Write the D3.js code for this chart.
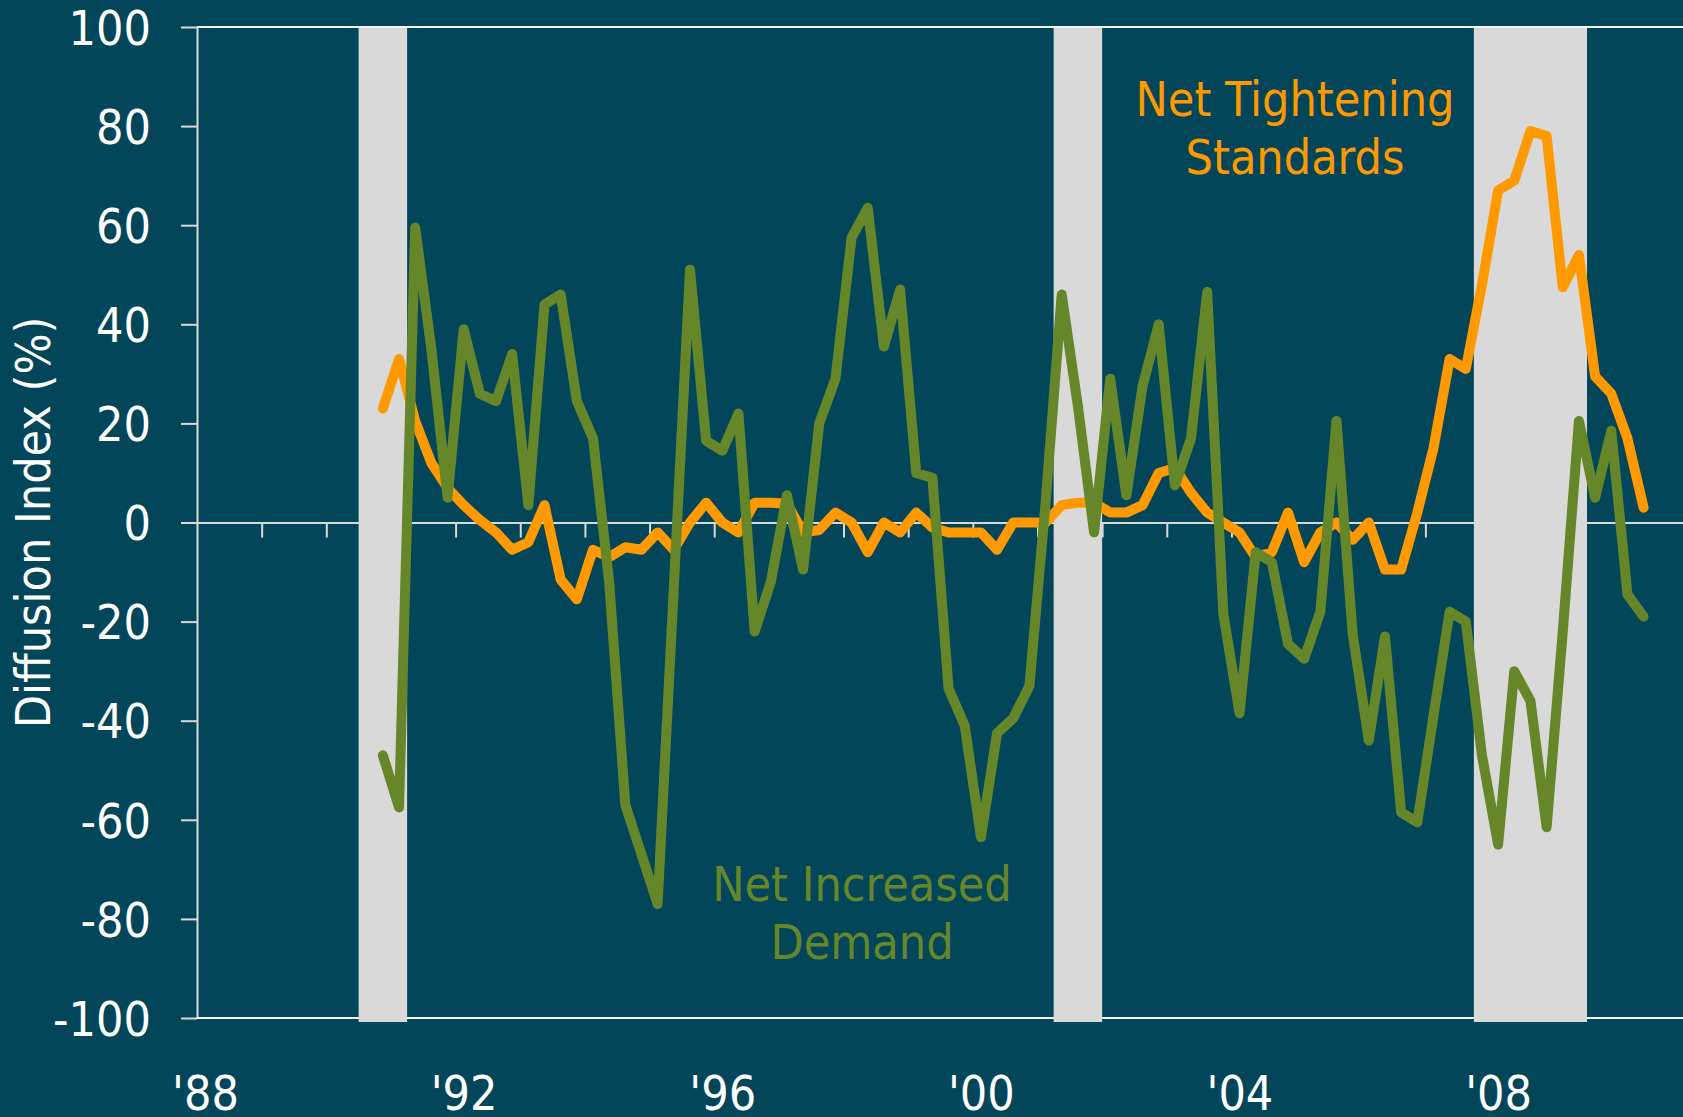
<!DOCTYPE html>
<html>
<head>
<meta charset="utf-8">
<script src="https://cdn.jsdelivr.net/npm/d3@7"></script>
<style>
  html, body { margin: 0; padding: 0; background: #03465a; }
  svg { display: block; }
  text { font-family: 'DejaVu Sans Condensed', 'DejaVu Sans', Verdana, sans-serif; font-stretch: condensed; }
</style>
</head>
<body>
<svg id="chart" width="1683" height="1117"></svg>
<script>
// quarterly survey readings, 1990Q4 .. 2010Q2
const quarters = [
  '1990Q4',
  '1991Q1', '1991Q2', '1991Q3', '1991Q4',
  '1992Q1', '1992Q2', '1992Q3', '1992Q4',
  '1993Q1', '1993Q2', '1993Q3', '1993Q4',
  '1994Q1', '1994Q2', '1994Q3', '1994Q4',
  '1995Q1', '1995Q2', '1995Q3', '1995Q4',
  '1996Q1', '1996Q2', '1996Q3', '1996Q4',
  '1997Q1', '1997Q2', '1997Q3', '1997Q4',
  '1998Q1', '1998Q2', '1998Q3', '1998Q4',
  '1999Q1', '1999Q2', '1999Q3', '1999Q4',
  '2000Q1', '2000Q2', '2000Q3', '2000Q4',
  '2001Q1', '2001Q2', '2001Q3', '2001Q4',
  '2002Q1', '2002Q2', '2002Q3', '2002Q4',
  '2003Q1', '2003Q2', '2003Q3', '2003Q4',
  '2004Q1', '2004Q2', '2004Q3', '2004Q4',
  '2005Q1', '2005Q2', '2005Q3', '2005Q4',
  '2006Q1', '2006Q2', '2006Q3', '2006Q4',
  '2007Q1', '2007Q2', '2007Q3', '2007Q4',
  '2008Q1', '2008Q2', '2008Q3', '2008Q4',
  '2009Q1', '2009Q2', '2009Q3', '2009Q4',
  '2010Q1', '2010Q2'
]

const tightening = [
  23,
  33, 20.5, 12, 7,
  3.5, 0.5, -2, -5.5,
  -4, 3.5, -11.5, -15.5,
  -5.5, -7, -5, -5.5,
  -2, -5.5, 0, 4,
  0, -2, 4, 4,
  3.8, -2, -1.5, 2,
  0, -6, 0, -2,
  2, -1, -2, -2,
  -2, -5.5, 0, 0,
  0, 3.5, 4, 4,
  2, 2, 3.5, 10,
  11, 6, 2, 0,
  -2, -7, -6, 2,
  -8, -2, 0, -3.5,
  0, -9.5, -9.5, 2,
  15, 33, 31, 48,
  67, 69, 79, 78,
  47.5, 54, 29.5, 26,
  17, 3
]

const demand = [
  -47,
  -57.5, 59.5, 35, 5,
  39, 26, 24.5, 34,
  3.5, 44, 46, 24.5,
  17, -12, -57, -67,
  -77, -13, 51, 16.5,
  14.5, 22, -22, -12,
  5.5, -9.5, 20, 29,
  57.5, 63.5, 35.5, 47,
  10, 9, -33.5, -41,
  -63.5, -42.5, -39.5, -33,
  4, 46, 23.5, -2,
  29, 5.5, 27.5, 40,
  7.5, 17, 46.5, -18.5,
  -38.5, -6, -8, -24.5,
  -27.5, -18, 20.5, -22.5,
  -44, -23, -58.5, -60.5,
  -39, -18, -20, -47,
  -65, -30, -36, -61.5,
  -22, 20.5, 5, 18.5,
  -14.5, -19
]

// NBER recessions as decimal years
const recessions = [[1990.5, 1991.25], [2001.25, 2002.0], [2007.75, 2009.5]]

const yTicks = [-100, -80, -60, -40, -20, 0, 20, 40, 60, 80, 100]
const yearTicks = d3.range(1989, 2011)
const labelYears = [1988, 1992, 1996, 2000, 2004, 2008]
const yearLabels = ["'88", "'92", "'96", "'00", "'04", "'08"]

const colors = { bg: '#03465a', bar: '#d9d9d9', axis: '#d9d9d9', orange: '#ff9900', green: '#65872a' }

const width = 1683
const height = 1117
const svg = d3.select('#chart')

const x = d3.scaleLinear().domain([1988, 2011]).range([197, 1684])
const y = d3.scaleLinear().domain([-100, 100]).range([1018, 27])

const toYear = (q) => +q.slice(0, 4) + (+q.slice(5) - 0.5) / 4

svg.append('rect').attr('width', width).attr('height', height).attr('fill', colors.bg)

// left axis with ticks and labels (plain hyphen for negatives, as in the source)
const yAxis = svg.append('g')
  .attr('transform', `translate(${x(1988)},0)`)
  .call(d3.axisLeft(y).tickValues(yTicks).tickSize(16).tickSizeOuter(0).tickPadding(30).tickFormat((d) => String(d)))
yAxis.select('.domain').attr('stroke', colors.axis).attr('stroke-width', 2)
yAxis.selectAll('.tick line').attr('stroke', colors.axis).attr('stroke-width', 2)
yAxis.selectAll('.tick text')
  .attr('fill', '#ffffff').attr('font-size', 48).attr('dy', '0.36em')
  .attr('font-family', null)

// top / bottom frame lines
svg.append('g').selectAll('line').data([100, -100]).join('line')
  .attr('x1', x(1988)).attr('x2', x(2011))
  .attr('y1', (d) => y(d)).attr('y2', (d) => y(d))
  .attr('stroke', '#f4f4f4').attr('stroke-width', 2)

// zero line with yearly ticks
const zeroAxis = svg.append('g')
  .attr('transform', `translate(0,${y(0)})`)
  .call(d3.axisBottom(x).tickValues(yearTicks).tickSize(15).tickSizeOuter(0).tickFormat(''))
zeroAxis.select('.domain').attr('stroke', colors.axis).attr('stroke-width', 2)
zeroAxis.selectAll('.tick line').attr('stroke', colors.axis).attr('stroke-width', 2)

// year labels
const xAxis = svg.append('g')
  .attr('transform', `translate(8,${y(-100)})`)
  .call(d3.axisBottom(x).tickValues(labelYears).tickSize(0).tickFormat((d, i) => yearLabels[i]))
xAxis.select('.domain').remove()
xAxis.selectAll('.tick text')
  .attr('fill', '#ffffff').attr('font-size', 48).attr('y', 92).attr('dy', null)
  .attr('font-family', null)

// recession shading
svg.append('g').selectAll('rect').data(recessions).join('rect')
  .attr('x', (d) => x(d[0])).attr('width', (d) => x(d[1]) - x(d[0]))
  .attr('y', y(100) + 1).attr('height', y(-100) - y(100) + 3)
  .attr('fill', colors.bar)

// series
const line = (values) => d3.line()
  .x((d, i) => x(toYear(quarters[i])))
  .y((d) => y(d))(values)

svg.append('path').attr('d', line(tightening))
  .attr('fill', 'none').attr('stroke', colors.orange).attr('stroke-width', 10)
  .attr('stroke-linejoin', 'round').attr('stroke-linecap', 'round')

svg.append('path').attr('d', line(demand))
  .attr('fill', 'none').attr('stroke', colors.green).attr('stroke-width', 10)
  .attr('stroke-linejoin', 'round').attr('stroke-linecap', 'round')

// axis title
svg.append('text')
  .attr('transform', `translate(50,${y(0)}) rotate(-90)`)
  .attr('text-anchor', 'middle').attr('fill', '#ffffff').attr('font-size', 48)
  .text('Diffusion Index (%)')

// series labels
const seriesLabels = [
  { lines: ['Net Tightening', 'Standards'], x: 1295, y: 116, color: colors.orange },
  { lines: ['Net Increased', 'Demand'], x: 862, y: 901, color: colors.green },
]
seriesLabels.forEach((label) => {
  svg.append('g').selectAll('text').data(label.lines).join('text')
    .attr('x', label.x).attr('y', (d, i) => label.y + i * 57.5)
    .attr('text-anchor', 'middle').attr('fill', label.color).attr('font-size', 48)
    .text((d) => d)
})
</script>
</body>
</html>
